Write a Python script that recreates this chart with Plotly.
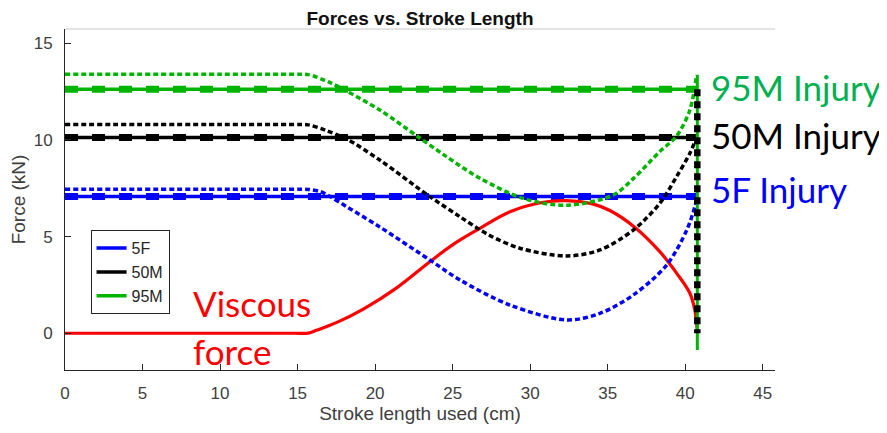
import plotly.graph_objects as go

# ---------------- data ----------------
STROKE_END = 40.78

injury_names = ["5F", "50M", "95M"]
injury_levels = [7.08, 10.13, 12.62]
injury_colors = ["#0000FF", "#000000", "#00B400"]
injury_labels = ["5F Injury", "50M Injury", "95M Injury"]
injury_label_colors = ["#0000FF", "#000000", "#00B050"]
injury_label_y = [7.46, 10.26, 12.76]

# occupant force curves (dotted)
f5_x = [0, 10, 14.8, 15.7, 16.5, 17.09, 18.16, 20.3, 23.53, 25.47, 28.7, 32.35, 34.5, 36.65, 38.8, 40.1, 40.62, STROKE_END]
f5_y = [7.45, 7.45, 7.45, 7.44, 7.32, 7.07, 6.55, 5.5, 3.79, 2.76, 1.46, 0.69, 1.03, 1.98, 3.53, 5.34, 6.55, 7.08]

m50_x = [0, 10, 14.8, 15.7, 16.8, 18.16, 20.3, 23.53, 25.47, 27.3, 29.34, 32.35, 34.5, 36.65, 38.36, 39.44, 40.3, 40.73]
m50_y = [10.8, 10.8, 10.8, 10.78, 10.5, 10.05, 8.96, 7.07, 6.03, 5.1, 4.40, 4.0, 4.31, 5.34, 6.72, 8.1, 9.31, 10.13]

m95_x = [0, 10, 14.8, 15.7, 17.0, 18.0, 20.3, 22.9, 24.6, 26.76, 29.55, 32.35, 35.35, 36.65, 38.36, 39.44, 40.3, 40.73]
m95_y = [13.4, 13.4, 13.4, 13.38, 13.0, 12.6, 11.55, 10.09, 9.14, 8.02, 6.98, 6.62, 7.15, 8.0, 9.4, 10.2, 11.55, 13.36]

# viscous force
visc_x = [0, 10, 14.8, 15.7, 16.2, 17.5, 19.24, 21.39, 23.53, 25.04, 26.76, 28.7, 30.85, 32.35, 34.07, 35.14, 36.8, 38.36, 39.5, 40.3, 40.62, STROKE_END]
visc_y = [0, 0, 0, 0.01, 0.15, 0.55, 1.25, 2.35, 3.7, 4.6, 5.43, 6.29, 6.78, 6.86, 6.68, 6.35, 5.45, 4.22, 3.05, 2.07, 1.2, 0.1]

# end-of-stroke verticals
green_vert_y = [13.37, -0.86]
black_vert_y = [12.62, 0.0]

x_ticks = [0, 5, 10, 15, 20, 25, 30, 35, 40, 45]
y_ticks = [0, 5, 10, 15]

# ---------------- figure ----------------
fig = go.Figure()

for name, lvl, col in zip(injury_names, injury_levels, injury_colors):
    fig.add_trace(go.Scatter(x=[0, STROKE_END], y=[lvl, lvl], mode="lines", name=name,
                             line=dict(color=col, width=3.5), showlegend=True))
for name, lvl, col in zip(injury_names, injury_levels, injury_colors):
    fig.add_trace(go.Scatter(x=[0, STROKE_END], y=[lvl, lvl], mode="lines", showlegend=False,
                             line=dict(color=col, width=7, dash="13px,14px")))

fig.add_trace(go.Scatter(x=visc_x, y=visc_y, mode="lines", showlegend=False,
                         line=dict(color="#FF0000", width=3.2, shape="spline", smoothing=1.0)))

for xs, ys, col in [(f5_x, f5_y, "#0000FF"), (m50_x, m50_y, "#000000"), (m95_x, m95_y, "#00B400")]:
    fig.add_trace(go.Scatter(x=xs, y=ys, mode="lines", showlegend=False,
                             line=dict(color=col, width=3.5, dash="5px,3px", shape="spline", smoothing=0.9)))

fig.add_trace(go.Scatter(x=[STROKE_END, STROKE_END], y=green_vert_y, mode="lines", showlegend=False,
                         line=dict(color="#00B400", width=3)))
fig.add_trace(go.Scatter(x=[STROKE_END, STROKE_END], y=black_vert_y, mode="lines", showlegend=False,
                         line=dict(color="#000000", width=6.5, dash="7px,5px")))

for txt, col, yv in zip(injury_labels, injury_label_colors, injury_label_y):
    fig.add_annotation(x=41.55, y=yv, text=txt, showarrow=False, xanchor="left", yanchor="middle",
                       font=dict(family="Lato", size=35, color=col))

fig.add_annotation(x=8.1, y=1.55, text="Viscous", showarrow=False, xanchor="left", yanchor="middle",
                   font=dict(family="Lato", size=35, color="#FF0000"))
fig.add_annotation(x=8.1, y=-0.92, text="force", showarrow=False, xanchor="left", yanchor="middle",
                   font=dict(family="Lato", size=35, color="#FF0000"))

# light top border of the axes box
fig.add_shape(type="line", xref="paper", yref="paper", x0=0, x1=1, y0=1, y1=1,
              line=dict(color="#C8C8C8", width=1))

axis_font = dict(family="Liberation Sans", size=17, color="#404040")
# the page body has an 8px margin, so the figure is 8px smaller than the window
fig.update_layout(
    width=879, height=425,
    margin=dict(l=57, r=112, t=21, b=63, autoexpand=False),
    paper_bgcolor="white", plot_bgcolor="white",
    title=dict(text="Forces vs. Stroke Length", x=412 / 879, xanchor="center", y=1 - 10 / 425,
               yanchor="middle", font=dict(family="Liberation Sans", size=19, color="#111111", weight="bold")),
    showlegend=True,
    legend=dict(x=0.036, y=0.41, xanchor="left", yanchor="top", bgcolor="white",
                bordercolor="#262626", borderwidth=1,
                font=dict(family="Liberation Sans", size=16, color="#262626"),
                tracegroupgap=0, itemwidth=30),
    xaxis=dict(range=[0, 45.79], tickvals=x_ticks, ticks="inside", ticklen=6, tickcolor="#262626",
               showline=True, linecolor="#262626", linewidth=1, showgrid=False, zeroline=False,
               tickfont=axis_font, ticklabelstandoff=8,
               title=dict(text="Stroke length used (cm)", font=dict(family="Liberation Sans", size=19, color="#404040"), standoff=4)),
    yaxis=dict(range=[-1.9, 15.74], tickvals=y_ticks, ticks="inside", ticklen=6, tickcolor="#262626",
               showline=True, linecolor="#262626", linewidth=1, showgrid=False, zeroline=False,
               tickfont=axis_font, ticklabelstandoff=8,
               title=dict(text="Force (kN)", font=dict(family="Liberation Sans", size=19, color="#404040"), standoff=4)),
)

fig.write_html("out.html")
